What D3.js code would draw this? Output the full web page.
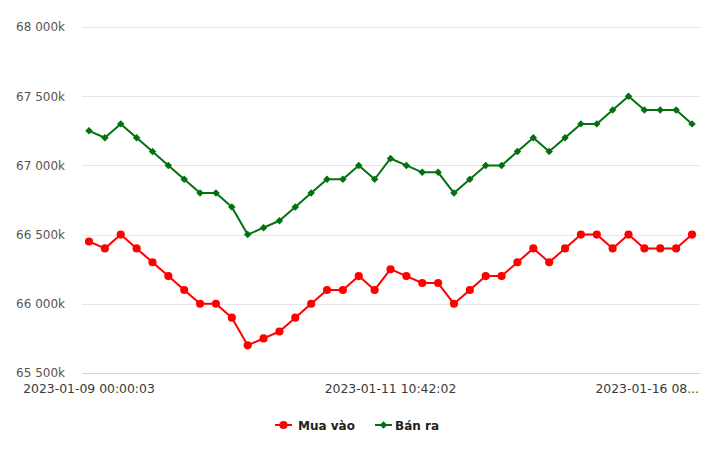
<!DOCTYPE html>
<html>
<head>
  <meta charset="utf-8">
  <style>
    body { margin: 0; background: #fff; }
    text { font-family: "DejaVu Sans", Verdana, sans-serif; }
    .grid line { stroke: #e6e6e6; shape-rendering: crispEdges; }
    .grid path { stroke-width: 0; }
    .yaxis text { fill: #555; font-size: 12px; }
    .xaxis text { fill: #3a3a3a; font-size: 12.4px; }
  </style>
</head>
<body>
  <script src="https://d3js.org/d3.v7.min.js"></script>
  <script>
    // 39 readings, only three timestamps are printed on the axis
    var labels = ["2023-01-09 00:00:03", "2023-01-11 10:42:02", "2023-01-16 08..."];
    var labelIdx = [0, 19, 38];

    var muaVao = [66450, 66400, 66500, 66400, 66300, 66200, 66100, 66000, 66000, 65900,
                  65700, 65750, 65800, 65900, 66000, 66100, 66100, 66200, 66100, 66250,
                  66200, 66150, 66150, 66000, 66100, 66200, 66200, 66300, 66400, 66300,
                  66400, 66500, 66500, 66400, 66500, 66400, 66400, 66400, 66500];
    var banRa = [67250, 67200, 67300, 67200, 67100, 67000, 66900, 66800, 66800, 66700,
                 66500, 66550, 66600, 66700, 66800, 66900, 66900, 67000, 66900, 67050,
                 67000, 66950, 66950, 66800, 66900, 67000, 67000, 67100, 67200, 67100,
                 67200, 67300, 67300, 67400, 67500, 67400, 67400, 67400, 67300];
    var yTicks = [65500, 66000, 66500, 67000, 67500, 68000];

    var margin = {top: 27, right: 20, bottom: 79, left: 82},
        width = 720 - margin.left - margin.right,
        height = 452 - margin.top - margin.bottom;

    var x = d3.scaleLinear().domain([0, muaVao.length - 1]).range([7, width - 8]),
        y = d3.scaleLinear().domain([65500, 68000]).range([height, 0]);

    var svg = d3.select("body").append("svg")
        .attr("width", 720)
        .attr("height", 452);

    var g = svg.append("g")
        .attr("transform", "translate(" + margin.left + "," + margin.top + ")");

    g.append("g")
        .attr("class", "grid")
        .call(d3.axisLeft(y).tickValues(yTicks).tickSize(-width).tickFormat(""));

    // bottom axis line
    g.append("line")
        .attr("x1", 0).attr("x2", width)
        .attr("y1", height + 0.5).attr("y2", height + 0.5)
        .attr("stroke", "#ccd6eb");

    // "68 000k" style labels
    function fmtK(d) {
      var s = String(d);
      return s.slice(0, 2) + " " + s.slice(2) + "k";
    }

    var yax = g.append("g")
        .attr("class", "yaxis")
        .call(d3.axisLeft(y).tickValues(yTicks).tickSize(0).tickPadding(17).tickFormat(fmtK));
    yax.select(".domain").remove();

    g.append("g")
        .attr("class", "xaxis")
        .selectAll("text")
        .data(labelIdx)
        .enter().append("text")
        .attr("x", function(d) { return x(d); })
        .attr("y", height + 20)
        .attr("text-anchor", function(d, i) { return i === labelIdx.length - 1 ? "end" : "middle"; })
        .attr("dx", function(d, i) { return i === labelIdx.length - 1 ? 7 : 0; })
        .text(function(d, i) { return labels[i]; });

    var line = d3.line()
        .x(function(d) { return x(d[0]); })
        .y(function(d) { return y(d[1]); });

    var series = [
      {name: "Mua vào", color: "#ff0000", values: muaVao, shape: d3.symbolCircle, size: 52, rot: 0},
      {name: "Bán ra", color: "#00720e", values: banRa, shape: d3.symbolSquare, size: 28, rot: 45}
    ];

    series.forEach(function(s) {
      var pts = s.values.map(function(v, i) { return [i, v]; });
      g.append("path")
          .datum(pts)
          .attr("fill", "none")
          .attr("stroke", s.color)
          .attr("stroke-width", 2)
          .attr("stroke-linejoin", "round")
          .attr("d", line);
      g.selectAll(null)
          .data(pts)
          .enter().append("path")
          .attr("transform", function(d) {
            return "translate(" + x(d[0]) + "," + y(d[1]) + ") rotate(" + s.rot + ")";
          })
          .attr("d", d3.symbol().type(s.shape).size(s.size))
          .attr("fill", s.color);
    });

    // legend
    var legend = svg.append("g").attr("transform", "translate(275,425)");
    var offs = [0, 100];
    series.forEach(function(s, i) {
      var lg = legend.append("g").attr("transform", "translate(" + offs[i] + ",0)");
      lg.append("line").attr("x1", 0).attr("x2", 17).attr("y1", 0).attr("y2", 0)
          .attr("stroke", s.color).attr("stroke-width", 2);
      lg.append("path").attr("transform", "translate(8.5,0) rotate(" + s.rot + ")")
          .attr("d", d3.symbol().type(s.shape).size(s.size)).attr("fill", s.color);
      lg.append("text").attr("x", i === 0 ? 23 : 20).attr("y", 4.5)
          .style("font-size", "12px").style("font-weight", "bold").attr("fill", "#222")
          .text(s.name);
    });
  </script>
</body>
</html>
